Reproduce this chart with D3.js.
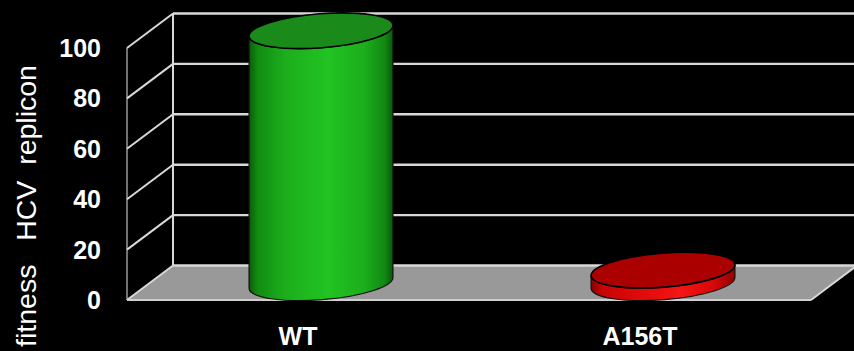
<!DOCTYPE html>
<html><head><meta charset="utf-8">
<script src="https://cdn.jsdelivr.net/npm/d3@7/dist/d3.min.js"></script>
<style>html,body{margin:0;padding:0;background:#000;}svg{display:block;}</style>
</head><body>
<script>
const categories = ["WT", "A156T"];
const values = [100, 5];
const yTicks = [0, 20, 40, 60, 80, 100];
const yTitle = "fitness   HCV  replicon";

const W = 854, H = 351;
const svg = d3.select("body").append("svg").attr("width", W).attr("height", H)
  .style("background", "#000");

// depth offset of back plane
const DX = 46, DY = -34.5;
const y = d3.scaleLinear().domain([0, 100]).range([300, 48]);
const x = d3.scaleBand().domain(categories).range([127, 811]).padding(0);

const defs = svg.append("defs");
function grad(id, stops) {
  const g = defs.append("linearGradient").attr("id", id).attr("x1", "0%").attr("x2", "100%").attr("y1", "0%").attr("y2", "0%");
  stops.forEach(s => g.append("stop").attr("offset", s[0]).attr("stop-color", s[1]));
}
grad("gGreen", [["0%", "#0a5c0a"], ["6%", "#128c12"], ["25%", "#1cae1c"], ["55%", "#22c322"], ["80%", "#1cae1c"], ["94%", "#128a12"], ["100%", "#0a5a0a"]]);
grad("gRed", [["0%", "#8a0000"], ["8%", "#c80505"], ["35%", "#e00a0a"], ["62%", "#f51515"], ["85%", "#d80808"], ["100%", "#900000"]]);
const colors = [{ body: "url(#gGreen)", top: "#1a8a1a" }, { body: "url(#gRed)", top: "#aa0000" }];

const x0 = x.range()[0], x1 = x.range()[1];
const line = "#d8d8d8";

// floor
svg.append("polygon")
  .attr("points", [[x0, y(0)], [x0 + DX, y(0) + DY], [x1 + DX, y(0) + DY], [x1, y(0)]].map(p => p.join(",")).join(" "))
  .attr("fill", "#999");

// back wall gridlines
svg.selectAll("line.back").data(yTicks).join("line")
  .attr("x1", x0 + DX).attr("x2", W + 10)
  .attr("y1", d => y(d) + DY).attr("y2", d => y(d) + DY)
  .attr("stroke", line).attr("stroke-width", 2.4);

// left wall
svg.append("line").attr("x1", x0 + DX).attr("x2", x0 + DX).attr("y1", y(0) + DY).attr("y2", y(100) + DY)
  .attr("stroke", line).attr("stroke-width", 2);
svg.append("line").attr("x1", x0).attr("x2", x0).attr("y1", y(0)).attr("y2", y(100))
  .attr("stroke", "#999").attr("stroke-width", 1.5);
svg.selectAll("line.diag").data(yTicks).join("line")
  .attr("x1", x0).attr("y1", d => y(d))
  .attr("x2", x0 + DX).attr("y2", d => y(d) + DY)
  .attr("stroke", line).attr("stroke-width", 2);

// floor front edges
svg.append("line").attr("x1", x0).attr("x2", x1).attr("y1", y(0)).attr("y2", y(0))
  .attr("stroke", "#cfcfcf").attr("stroke-width", 2);
svg.append("line").attr("x1", x1).attr("y1", y(0)).attr("x2", x1 + DX).attr("y2", y(0) + DY)
  .attr("stroke", line).attr("stroke-width", 2);

// cylinders
const rot = -4.5, th = rot * Math.PI / 180;
const bw = x.bandwidth();
const rx = bw * 0.211, ry = 17;
categories.forEach((c, i) => {
  const cx = x(c) + bw / 2 + DX / 2;
  const yb = y(0) + DY / 2;
  const yt = y(values[i]) + DY / 2;
  const ex = rx * Math.cos(th), ey = rx * Math.sin(th);
  const g = svg.append("g");
  const p = `M${cx - ex},${yt - ey} L${cx - ex},${yb - ey} A${rx},${ry} ${rot} 0 0 ${cx + ex},${yb + ey} L${cx + ex},${yt + ey} A${rx},${ry} ${rot} 0 1 ${cx - ex},${yt - ey} Z`;
  g.append("path").attr("d", p).attr("fill", colors[i].body)
    .attr("stroke", "#111").attr("stroke-width", 1.2);
  g.append("ellipse").attr("cx", 0).attr("cy", 0).attr("rx", rx).attr("ry", ry)
    .attr("transform", `translate(${cx},${yt}) rotate(${rot})`)
    .attr("fill", colors[i].top).attr("stroke", "#000").attr("stroke-width", 1.6);
});

// y tick labels
svg.selectAll("text.yt").data(yTicks).join("text")
  .attr("x", 101).attr("y", d => y(d)).attr("dy", "0.36em")
  .attr("text-anchor", "end").attr("fill", "#fff")
  .style("font", "bold 25px 'Liberation Sans', Arial, sans-serif")
  .text(d => d);

// x labels
svg.selectAll("text.xl").data(categories).join("text")
  .attr("x", d => x(d) + bw / 2).attr("y", 345)
  .attr("text-anchor", "middle").attr("fill", "#fff")
  .style("font", "bold 25px 'Liberation Sans', Arial, sans-serif")
  .text(d => d);

// y title
svg.append("text")
  .attr("transform", "translate(36,206) rotate(-90)")
  .attr("text-anchor", "middle").attr("fill", "#fff")
  .style("font", "28.5px 'Liberation Sans', Arial, sans-serif")
  .style("white-space", "pre")
  .text(yTitle);
</script>
</body></html>
